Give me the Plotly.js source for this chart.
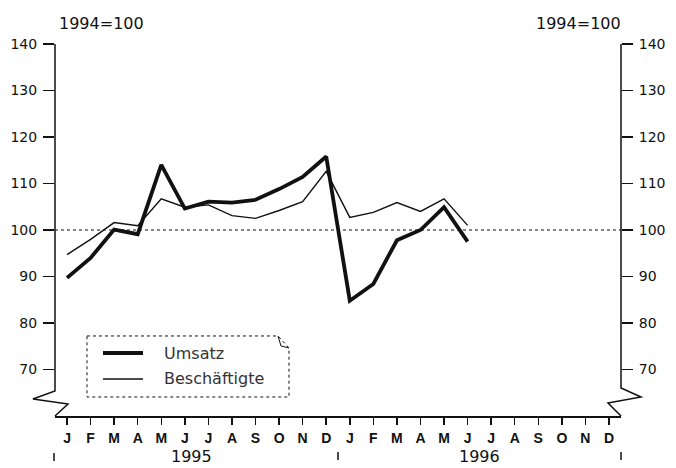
<!DOCTYPE html>
<html>
<head>
<meta charset="utf-8">
<script src="https://cdn.plot.ly/plotly-3.0.1.min.js"></script>
<style>
html,body{margin:0;padding:0;background:#fff;}
#chart{width:676px;height:468px;}
</style>
</head>
<body>
<div id="chart"></div>
<script>
// ---- data ----
const monthLabels = ['J','F','M','A','M','J','J','A','S','O','N','D',
                     'J','F','M','A','M','J','J','A','S','O','N','D'];
const yearLabels = ['1995', '1996'];
const seriesNames = ['Umsatz', 'Beschäftigte'];
const umsatz = [89.7, 94.0, 100.1, 99.1, 114.0, 104.6, 106.1, 105.9, 106.5, 108.8, 111.4, 115.8,
                84.8, 88.4, 97.8, 100.0, 104.9, 97.5];
const beschaeftigte = [94.7, 98.0, 101.6, 100.9, 106.7, 104.9, 105.4, 103.1, 102.5, 104.2, 106.1, 112.6,
                       102.7, 103.8, 105.9, 104.0, 106.7, 101.0];
const yTicks = [70, 80, 90, 100, 110, 120, 130, 140];
const baseTitle = '1994=100';

// ---- build ----
const xIdx = umsatz.map((_, i) => i);
const monthIdx = monthLabels.map((_, i) => i);
const ink = '#111';
const FONT = 'DejaVu Sans, sans-serif';

const traces = [
  {x: xIdx, y: beschaeftigte, type: 'scatter', mode: 'lines', name: seriesNames[1],
   line: {color: ink, width: 1.4}, showlegend: false, hoverinfo: 'skip'},
  {x: xIdx, y: umsatz, type: 'scatter', mode: 'lines', name: seriesNames[0],
   line: {color: ink, width: 3.8}, showlegend: false, hoverinfo: 'skip'},
  {x: [0], y: [100], yaxis: 'y2', type: 'scatter', mode: 'markers', showlegend: false,
   marker: {opacity: 0}, hoverinfo: 'skip'}
];

function px2x(p){ return (p - 55) / 566; }
function px2y(p){ return (416 - p) / 372; }
function P(pts){ return 'M' + pts.map(q => px2x(q[0]).toFixed(4) + ',' + px2y(q[1]).toFixed(4)).join(' L') ; }

const shapes = [
  // left axis with break
  {type:'path', xref:'paper', yref:'paper', path: P([[55,44],[55,391],[33,399],[68,404],[55,416]]),
   line:{color:ink, width:1.5}},
  // right axis with break
  {type:'path', xref:'paper', yref:'paper', path: P([[621,44],[621,388],[641,397],[608,403],[621,416]]),
   line:{color:ink, width:1.5}},
  // reference line at 100
  {type:'line', xref:'paper', yref:'y', x0:0, x1:1, y0:100, y1:100,
   line:{color:ink, width:1.2, dash:'dot'}},
  // year separators
  {type:'line', xref:'paper', yref:'paper', x0:px2x(54), x1:px2x(54), y0:px2y(453), y1:px2y(461), line:{color:ink, width:1.5}},
  {type:'line', xref:'paper', yref:'paper', x0:px2x(338), x1:px2x(338), y0:px2y(452), y1:px2y(460), line:{color:ink, width:1.5}},
  {type:'line', xref:'paper', yref:'paper', x0:px2x(621), x1:px2x(621), y0:px2y(452), y1:px2y(460), line:{color:ink, width:1.5}},
  // legend box
  {type:'path', xref:'paper', yref:'paper', path: P([[87,336],[278,336],[289,348],[289,397],[87,397]]) + ' Z',
   line:{color:ink, width:1, dash:'dot'}},
  {type:'path', xref:'paper', yref:'paper', path: P([[278,336],[281,346],[289,348]]),
   line:{color:ink, width:1}},
  // legend samples
  {type:'line', xref:'paper', yref:'paper', x0:px2x(103), x1:px2x(143), y0:px2y(353), y1:px2y(353), line:{color:ink, width:3.8}},
  {type:'line', xref:'paper', yref:'paper', x0:px2x(103), x1:px2x(143), y0:px2y(379), y1:px2y(379), line:{color:ink, width:1.4}}
];

const annotations = [
  {text: baseTitle, xref:'paper', yref:'paper', x:px2x(57), y:px2y(23), xanchor:'left', yanchor:'middle',
   showarrow:false, font:{family:FONT, size:16, color:ink}},
  {text: baseTitle, xref:'paper', yref:'paper', x:px2x(623), y:px2y(23), xanchor:'right', yanchor:'middle',
   showarrow:false, font:{family:FONT, size:16, color:ink}},
  {text: yearLabels[0], xref:'x', yref:'paper', x:5.3, y:px2y(457), xanchor:'center', yanchor:'middle',
   showarrow:false, font:{family:FONT, size:16, color:ink}},
  {text: yearLabels[1], xref:'x', yref:'paper', x:17.5, y:px2y(457), xanchor:'center', yanchor:'middle',
   showarrow:false, font:{family:FONT, size:16, color:ink}},
  {text: seriesNames[0], xref:'paper', yref:'paper', x:px2x(162), y:px2y(353), xanchor:'left', yanchor:'middle',
   showarrow:false, font:{family:FONT, size:16, color:'#333'}},
  {text: seriesNames[1], xref:'paper', yref:'paper', x:px2x(162), y:px2y(378), xanchor:'left', yanchor:'middle',
   showarrow:false, font:{family:FONT, size:16, color:'#333'}}
];

const yCommon = {
  range: [60, 140], tickvals: yTicks, ticks: 'outside', ticklen: 11, tickwidth: 1.5, tickcolor: ink,
  showgrid: false, zeroline: false, showline: false, fixedrange: true,
  tickfont: {family: FONT, size: 14, color: ink}, ticklabelstandoff: 3
};

const layout = {
  width: 676, height: 468,
  margin: {l: 55, r: 55, t: 44, b: 52, autoexpand: false},
  paper_bgcolor: '#fff', plot_bgcolor: '#fff',
  showlegend: false,
  xaxis: {
    range: [-0.51, 23.51], tickvals: monthIdx, ticktext: monthLabels,
    ticks: 'outside', ticklen: 7, tickwidth: 1.5, tickcolor: ink,
    showline: true, linecolor: ink, linewidth: 1.5,
    showgrid: false, zeroline: false, fixedrange: true,
    tickfont: {family: 'Liberation Sans Narrow, Liberation Sans, Arial, sans-serif', size: 14, color: ink, weight: 'bold'},
    ticklabelstandoff: 2
  },
  yaxis: Object.assign({}, yCommon, {side: 'left'}),
  yaxis2: Object.assign({}, yCommon, {side: 'right', overlaying: 'y', matches: 'y'}),
  shapes: shapes,
  annotations: annotations
};

Plotly.newPlot('chart', traces, layout, {staticPlot: true, displayModeBar: false});
</script>
</body>
</html>
